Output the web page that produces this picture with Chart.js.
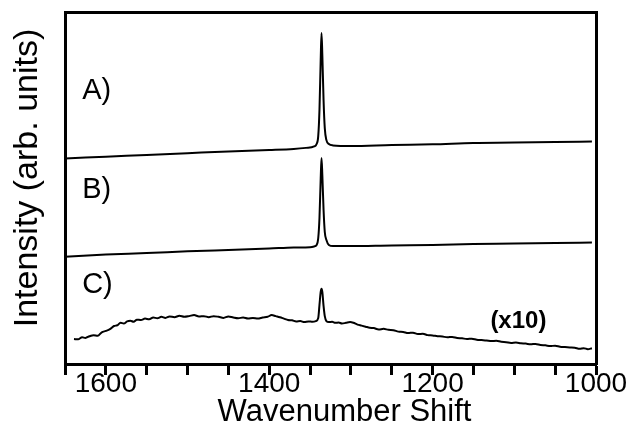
<!DOCTYPE html>
<html>
<head>
<meta charset="utf-8">
<script src="https://cdn.jsdelivr.net/npm/chart.js@4.4.1/dist/chart.umd.min.js"></script>
<style>
  html, body { margin: 0; padding: 0; background: #ffffff; }
  #wrap { width: 634px; height: 444px; }
</style>
</head>
<body>
<div id="wrap"><canvas id="c" width="634" height="444"></canvas></div>
<script>
// ---- data (wavenumber shift, intensity in arb. units) ----
const wavenumbersA = [1650,1600,1550,1500,1450,1400,1370,1355,1345,1342,1340,1338.5,1337,1336,1335,1333.5,1332,1330,1327,1322,1300,1250,1200,1150,1100,1050,1005];
const intensityA   = [58.4,58.9,59.4,59.9,60.4,60.8,61.1,61.4,61.8,62.5,64.8,72.2,86.4,94.0,87.8,75.0,67.0,63.6,62.5,62.1,61.9,62.2,62.4,62.8,62.9,63.1,63.2];

const wavenumbersB = [1650,1600,1550,1500,1450,1400,1370,1350,1345,1342,1340,1338.5,1337,1336,1335,1333.5,1332,1330,1327,1322,1300,1250,1200,1150,1100,1050,1005];
const intensityB   = [30.5,31.1,31.5,32.0,32.4,32.8,33.1,33.2,33.4,33.8,35.8,41.5,52.6,58.5,53.7,43.8,37.5,35.2,33.8,33.5,33.5,33.7,33.8,34.1,34.2,34.4,34.5];

const wavenumbersC = [1639,1634,1629,1625,1620,1615,1610,1605,1600,1595,1590,1586,1582,1578,1574,1570,1566,1562,1557,1552,1547,1542,1537,1532,1527,1522,1516,1510,1504,1498,1492,1486,1480,1474,1468,1462,1456,1450,1444,1438,1432,1426,1420,1414,1408,1402,1397,1392,1387,1382,1377,1372,1367,1362,1357,1352,1347,1343,1340,1338.5,1337,1336,1335,1333.5,1332,1330,1327,1323,1319,1315,1311,1306,1301,1297,1292,1287,1282,1277,1272,1266,1260,1254,1248,1242,1236,1230,1224,1218,1212,1206,1200,1194,1188,1182,1176,1170,1164,1158,1152,1146,1140,1134,1128,1122,1116,1110,1104,1098,1092,1086,1080,1074,1068,1062,1056,1050,1044,1038,1032,1026,1020,1015,1010,1005];
const intensityC   = [7.1,7.0,7.6,7.4,7.9,8.2,8.0,9.0,9.4,9.9,10.8,11.0,11.7,11.5,12.1,12.3,12.0,12.6,12.5,12.9,12.7,13.2,13.0,13.4,13.1,13.5,13.3,13.7,13.4,13.6,13.9,13.5,13.6,13.3,13.6,13.4,13.1,13.5,13.2,13.0,13.2,12.9,13.1,12.9,13.2,13.4,13.9,13.6,13.3,12.9,12.5,12.4,12.1,12.2,11.9,12.1,12.0,12.2,13.1,16.8,20.5,21.4,20.5,16.5,13.6,12.2,11.9,12.0,11.7,11.8,11.5,11.7,11.9,11.7,11.2,10.9,10.6,10.3,10.2,9.8,10.0,9.7,9.6,9.2,9.1,8.8,8.9,8.5,8.6,8.2,8.1,7.9,7.8,7.6,7.7,7.4,7.3,7.1,7.2,6.9,6.8,6.7,6.5,6.6,6.3,6.2,6.0,6.1,5.9,5.8,5.6,5.7,5.4,5.3,5.1,5.2,4.9,4.8,4.7,4.6,4.3,4.5,4.2,4.5];

const xTickLabels = [1600, 1400, 1200, 1000];
const panelLabels = ['A)', 'B)', 'C)'];
const scaleNote = '(x10)';
const xTitle = 'Wavenumber Shift';
const yTitle = 'Intensity (arb. units)';

// ---- presentation ----
const FONT = "'Liberation Sans', Arial, Helvetica, sans-serif";
const toPoints = (xs, ys) => xs.map((x, i) => ({ x: x, y: ys[i] }));
const lineStyle = { borderColor: '#000', borderWidth: 2, pointRadius: 0, fill: false, cubicInterpolationMode: 'monotone' };

const labelPlugin = {
  id: 'panelText',
  afterDraw(chart, args, opts) {
    const { ctx, chartArea, scales: { x, y } } = chart;
    ctx.save();
    ctx.fillStyle = '#000';
    // panel labels
    ctx.textBaseline = 'middle';
    ctx.textAlign = 'left';
    ctx.font = '29px ' + FONT;
    opts.panelAnchors.forEach((a, i) => {
      ctx.fillText(panelLabels[i], x.getPixelForValue(a[0]), y.getPixelForValue(a[1]));
    });
    ctx.textAlign = 'center';
    ctx.font = 'bold 24px ' + FONT;
    ctx.fillText(scaleNote, x.getPixelForValue(opts.noteAnchor[0]), y.getPixelForValue(opts.noteAnchor[1]));
    // axis titles
    ctx.textBaseline = 'alphabetic';
    ctx.font = '31px ' + FONT;
    ctx.fillText(xTitle, (chartArea.left + chartArea.right) / 2 + opts.xTitleShift, chart.height - opts.xTitleBottom);
    ctx.font = '34px ' + FONT;
    ctx.translate(opts.yTitleBaseline, (chartArea.top + chartArea.bottom) / 2 - opts.yTitleRaise);
    ctx.rotate(-Math.PI / 2);
    ctx.fillText(yTitle, 0, 0);
    ctx.restore();
  }
};

new Chart(document.getElementById('c'), {
  type: 'line',
  data: {
    datasets: [
      Object.assign({ label: 'A', data: toPoints(wavenumbersA, intensityA) }, lineStyle),
      Object.assign({ label: 'B', data: toPoints(wavenumbersB, intensityB) }, lineStyle),
      Object.assign({ label: 'C', data: toPoints(wavenumbersC, intensityC) }, lineStyle)
    ]
  },
  options: {
    responsive: false,
    animation: false,
    devicePixelRatio: 1,
    layout: { padding: { left: 0, right: 0, top: 12, bottom: 0 } },
    plugins: {
      legend: { display: false },
      tooltip: { enabled: false },
      panelText: {
        panelAnchors: [[1629, 77.6], [1629, 49.4], [1629, 22.4]],
        noteAnchor: [1095, 12.2],
        xTitleShift: 14, xTitleBottom: 23,
        yTitleBaseline: 37, yTitleRaise: 10
      }
    },
    scales: {
      x: {
        type: 'linear', position: 'bottom', reverse: true, min: 1000, max: 1650,
        border: { display: true, color: '#000', width: 3 },
        grid: { display: true, drawOnChartArea: false, drawTicks: true, tickLength: 11, tickWidth: 3, tickColor: '#000' },
        ticks: {
          stepSize: 50, autoSkip: false, maxRotation: 0, minRotation: 0, padding: -8, color: '#000',
          font: { family: FONT, size: 28 },
          callback: (v) => xTickLabels.includes(v) ? String(v) : ''
        },
        title: { display: false, text: xTitle },
        afterFit: (s) => { s.height = 80; }
      },
      x2: {
        type: 'linear', position: 'top', reverse: true, min: 1000, max: 1650,
        border: { display: true, color: '#000', width: 3 },
        grid: { display: false }, ticks: { display: false },
        afterFit: (s) => { s.height = 0; }
      },
      y: {
        type: 'linear', position: 'left', min: 0, max: 100,
        border: { display: true, color: '#000', width: 3 },
        grid: { display: false }, ticks: { display: false },
        title: { display: false, text: yTitle },
        afterFit: (s) => { s.width = 65; }
      },
      y2: {
        type: 'linear', position: 'right', min: 0, max: 100,
        border: { display: true, color: '#000', width: 3 },
        grid: { display: false }, ticks: { display: false },
        afterFit: (s) => { s.width = 38; }
      }
    }
  },
  plugins: [labelPlugin]
});
</script>
</body>
</html>
